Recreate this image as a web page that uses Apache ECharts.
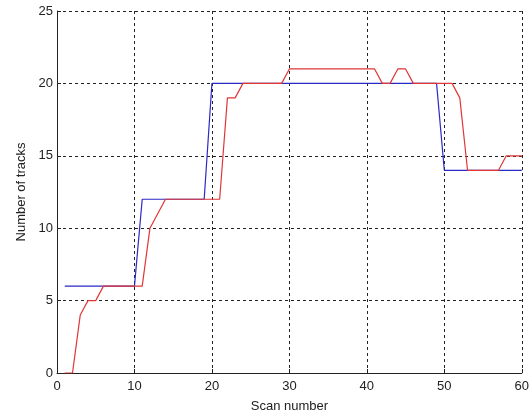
<!DOCTYPE html>
<html>
<head>
<meta charset="utf-8">
<script src="https://cdn.jsdelivr.net/npm/echarts@6/dist/echarts.min.js"></script>
<style>
html,body{margin:0;padding:0;background:#fff;}
#c{width:532px;height:418px;}
</style>
</head>
<body>
<div id="c"></div>
<script>
var scans = [1,2,3,4,5,6,7,8,9,10,11,12,13,14,15,16,17,18,19,20,21,22,23,24,25,26,27,28,29,30,31,32,33,34,35,36,37,38,39,40,41,42,43,44,45,46,47,48,49,50,51,52,53,54,55,56,57,58,59,60];
var trueTracks = [6,6,6,6,6,6,6,6,6,6,12,12,12,12,12,12,12,12,12,20,20,20,20,20,20,20,20,20,20,20,20,20,20,20,20,20,20,20,20,20,20,20,20,20,20,20,20,20,20,14,14,14,14,14,14,14,14,14,14,14];
var estTracks = [0,0,4,5,5,6,6,6,6,6,6,10,11,12,12,12,12,12,12,12,12,19,19,20,20,20,20,20,20,21,21,21,21,21,21,21,21,21,21,21,21,20,20,21,21,20,20,20,20,20,20,19,14,14,14,14,14,15,15,15];
var xTicks = [0,10,20,30,40,50,60];
var yTicks = [0,5,10,15,20,25];

function pairs(xs, ys){ return xs.map(function(x,i){ return [x, ys[i]]; }); }

var font = 'Liberation Sans, Arial, sans-serif';
var chart = echarts.init(document.getElementById('c'));
chart.setOption({
  animation: false,
  backgroundColor: '#fff',
  grid: {left: 57, right: 7, top: 11, bottom: 39, containLabel: false},
  xAxis: {
    type: 'value', min: xTicks[0], max: xTicks[xTicks.length-1], interval: 10,
    name: 'Scan number', nameLocation: 'middle', nameGap: 27,
    nameTextStyle: {fontFamily: font, fontSize: 13, color: '#222'},
    axisLine: {show: true, onZero: false, lineStyle: {color: '#222', width: 1}},
    axisTick: {show: true, inside: true, length: 4, lineStyle: {color: '#222'}},
    axisLabel: {fontFamily: font, fontSize: 13, color: '#222', margin: 7},
    splitLine: {show: true, showMinLine: false, showMaxLine: true, lineStyle: {color: '#222', type: [3,3], width: 1}}
  },
  yAxis: {
    type: 'value', min: yTicks[0], max: yTicks[yTicks.length-1], interval: 5,
    name: 'Number of tracks', nameLocation: 'middle', nameGap: 26, nameRotate: 90,
    nameTextStyle: {fontFamily: font, fontSize: 13, color: '#222'},
    axisLine: {show: true, onZero: false, lineStyle: {color: '#222', width: 1}},
    axisTick: {show: true, inside: true, length: 4, lineStyle: {color: '#222'}},
    axisLabel: {fontFamily: font, fontSize: 13, color: '#222', margin: 4},
    splitLine: {show: true, showMinLine: false, showMaxLine: true, lineStyle: {color: '#222', type: [3,3], width: 1}}
  },
  series: [
    {type: 'line', data: pairs(scans, trueTracks), showSymbol: false, symbol: 'none',
     lineStyle: {color: '#2a2ac4', width: 1.2}, z: 3},
    {type: 'line', data: pairs(scans, estTracks), showSymbol: false, symbol: 'none',
     lineStyle: {color: '#e03636', width: 1.2}, z: 4}
  ]
});
</script>
</body>
</html>
